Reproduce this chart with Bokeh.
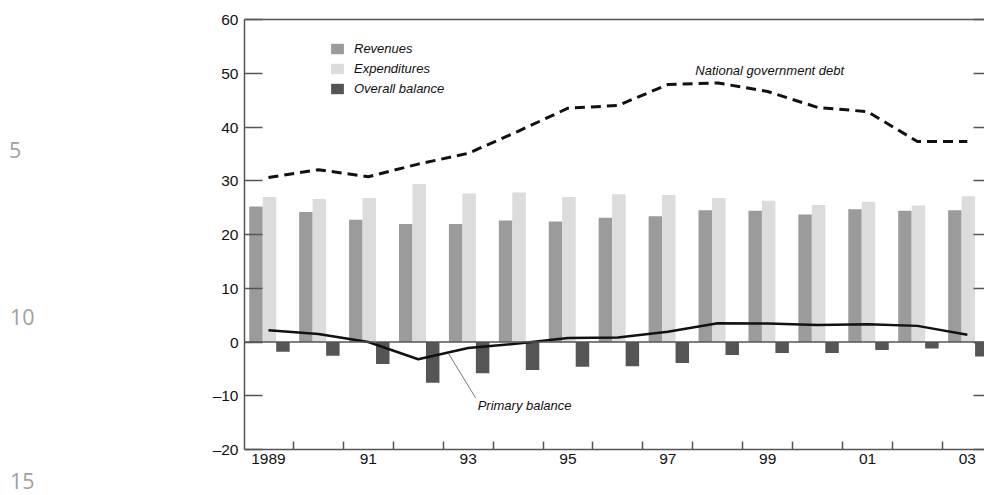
from bokeh.plotting import figure
from bokeh.layouts import row
from bokeh.models import (Range1d, LinearAxis, FixedTicker, Span, Label, Legend, LegendItem, Div)
from bokeh.embed import file_html
from bokeh.resources import INLINE
import numpy as np

# ---------------- data ----------------
years = [1989, 1990, 1991, 1992, 1993, 1994, 1995, 1996, 1997, 1998, 1999, 2000, 2001, 2002, 2003]
revenues = [25.2, 24.2, 22.75, 21.95, 21.95, 22.6, 22.4, 23.1, 23.4, 24.5, 24.4, 23.7, 24.7, 24.4, 24.5]
expenditures = [27.0, 26.6, 26.8, 29.4, 27.65, 27.8, 27.0, 27.5, 27.35, 26.8, 26.3, 25.5, 26.1, 25.4, 27.1]
overall_balance = [-1.8, -2.55, -4.1, -7.6, -5.8, -5.2, -4.6, -4.5, -3.9, -2.4, -2.05, -2.05, -1.5, -1.2, -2.7]
primary_balance = [2.2, 1.5, 0.0, -3.2, -1.1, -0.3, 0.75, 0.85, 1.9, 3.5, 3.45, 3.15, 3.3, 3.0, 1.35]
govt_debt = [30.6, 32.05, 30.75, 33.1, 35.1, 39.2, 43.5, 44.0, 47.9, 48.2, 46.6, 43.65, 42.85, 37.3, 37.3]

xtick_values = [1989, 1991, 1993, 1995, 1997, 1999, 2001, 2003]
xtick_labels = ["1989", "91", "93", "95", "97", "99", "01", "03"]
ytick_values = [-20, -10, 0, 10, 20, 30, 40, 50, 60]
ytick_labels = ["\u201320", "\u201310", "0", "10", "20", "30", "40", "50", "60"]
series_names = ["Revenues", "Expenditures", "Overall balance"]
line_numbers = ["5", "10", "15"]

# ---------------- style ----------------
FONT = "Liberation Sans"
AX = "#555555"
C_REV = "#9b9b9b"
C_EXP = "#dcdcdc"
C_BAL = "#555555"

yrs = np.array(years, dtype=float)
BW = 0.27
NUM_W = 40

# ---------- left gutter with line numbers (HTML) ----------
ln_pos = [(9, 140), (10, 307), (10, 471)]
spans = "".join(
    f'<span style="position:absolute;left:{lx}px;top:{ty}px;line-height:20px;height:20px;">{t}</span>'
    for t, (lx, ty) in zip(line_numbers, ln_pos))
gut = Div(text=f'<div style="position:relative;width:{NUM_W}px;height:495px;'
               f"font-family:'Open Sans';font-size:21.5px;color:#a0a0a0;\">{spans}</div>",
          width=NUM_W, height=495, margin=0)

# ---------- main chart ----------
p = figure(frame_width=740, frame_height=430,
           x_range=Range1d(1988.52, 1988.52 + 740 / 49.92),
           y_range=Range1d(-20, 60),
           output_backend="svg", toolbar_location=None,
           min_border_left=244 - NUM_W, min_border_right=0, min_border_top=19, min_border_bottom=46,
           x_axis_location=None, y_axis_location=None)
p.outline_line_color = None
p.grid.visible = False
p.background_fill_color = "white"
p.border_fill_color = "white"

r_rev = p.vbar(x=yrs - 0.25, top=revenues, bottom=0, width=BW, fill_color=C_REV, line_color=None)
r_exp = p.vbar(x=yrs + 0.02, top=expenditures, bottom=0, width=BW, fill_color=C_EXP, line_color=None)
r_bal = p.vbar(x=yrs + 0.29, top=0, bottom=overall_balance, width=BW, fill_color=C_BAL, line_color=None)

p.add_layout(Span(location=0, dimension="width", line_color=AX, line_width=1.5))

p.line(yrs, primary_balance, line_color="#111111", line_width=2.5)
p.line(yrs, govt_debt, line_color="#111111", line_width=3, line_dash="10 6")

# leader line for primary balance label
p.segment(x0=[1992.61], y0=[-2.2], x1=[1993.15], y1=[-10.4], line_color="#777777", line_width=1)

p.add_layout(Label(x=1993.19, y=-11.85, text="Primary balance", text_font=FONT,
                   text_font_style="italic", text_font_size="13px", text_baseline="middle",
                   text_color="#111111"))
p.add_layout(Label(x=1997.55, y=50.5, text="National government debt", text_font=FONT,
                   text_font_style="italic", text_font_size="13px", text_baseline="middle",
                   text_color="#111111"))

# left axis
yax = LinearAxis(ticker=FixedTicker(ticks=ytick_values),
                 major_label_overrides={v: l for v, l in zip(ytick_values, ytick_labels)})
yax.axis_line_color = AX
yax.axis_line_width = 1.5
yax.major_tick_line_color = AX
yax.major_tick_line_width = 1.5
yax.major_tick_in = 18
yax.major_tick_out = 0
yax.minor_tick_line_color = None
yax.major_label_standoff = 6
yax.major_label_text_font = FONT
yax.major_label_text_font_size = "15.5px"
yax.major_label_text_color = "#111111"
p.add_layout(yax, "left")

# right axis (ticks only)
rax = LinearAxis(ticker=FixedTicker(ticks=ytick_values))
rax.axis_line_color = None
rax.major_tick_line_color = AX
rax.major_tick_line_width = 1.5
rax.major_tick_in = 11
rax.major_tick_out = 0
rax.minor_tick_line_color = None
rax.major_label_standoff = 0
rax.major_label_text_font_size = "0px"
rax.major_label_text_alpha = 0
p.add_layout(rax, "right")

# top border
tax = LinearAxis(ticker=FixedTicker(ticks=[]))
tax.axis_line_color = AX
tax.axis_line_width = 1.5
tax.major_tick_line_color = None
tax.minor_tick_line_color = None
tax.major_tick_out = 0
tax.major_label_standoff = 0
tax.major_label_text_font_size = "0px"
p.add_layout(tax, "above")

# bottom axis
boundaries = [y + 0.5 for y in years[:-1]]
xax = LinearAxis(ticker=FixedTicker(ticks=xtick_values, minor_ticks=boundaries),
                 major_label_overrides={v: l for v, l in zip(xtick_values, xtick_labels)})
xax.axis_line_color = AX
xax.axis_line_width = 1.5
xax.major_tick_line_color = None
xax.major_tick_in = 0
xax.major_tick_out = 0
xax.minor_tick_line_color = AX
xax.minor_tick_line_width = 1.5
xax.minor_tick_in = 8
xax.minor_tick_out = 0
xax.major_label_standoff = 4
xax.major_label_text_font = FONT
xax.major_label_text_font_size = "15.5px"
xax.major_label_text_color = "#111111"
p.add_layout(xax, "below")

legend = Legend(items=[LegendItem(label=series_names[0], renderers=[r_rev]),
                       LegendItem(label=series_names[1], renderers=[r_exp]),
                       LegendItem(label=series_names[2], renderers=[r_bal])],
                location=(85, 353), margin=0, padding=0, spacing=5,
                glyph_width=16, glyph_height=13, label_height=15,
                label_text_font=FONT, label_text_font_style="italic",
                label_text_font_size="13px", label_text_color="#111111",
                label_standoff=9,
                background_fill_alpha=0, border_line_alpha=0)
p.add_layout(legend)

layout = row(gut, p)
open("out.html", "w").write(file_html(layout, INLINE))
